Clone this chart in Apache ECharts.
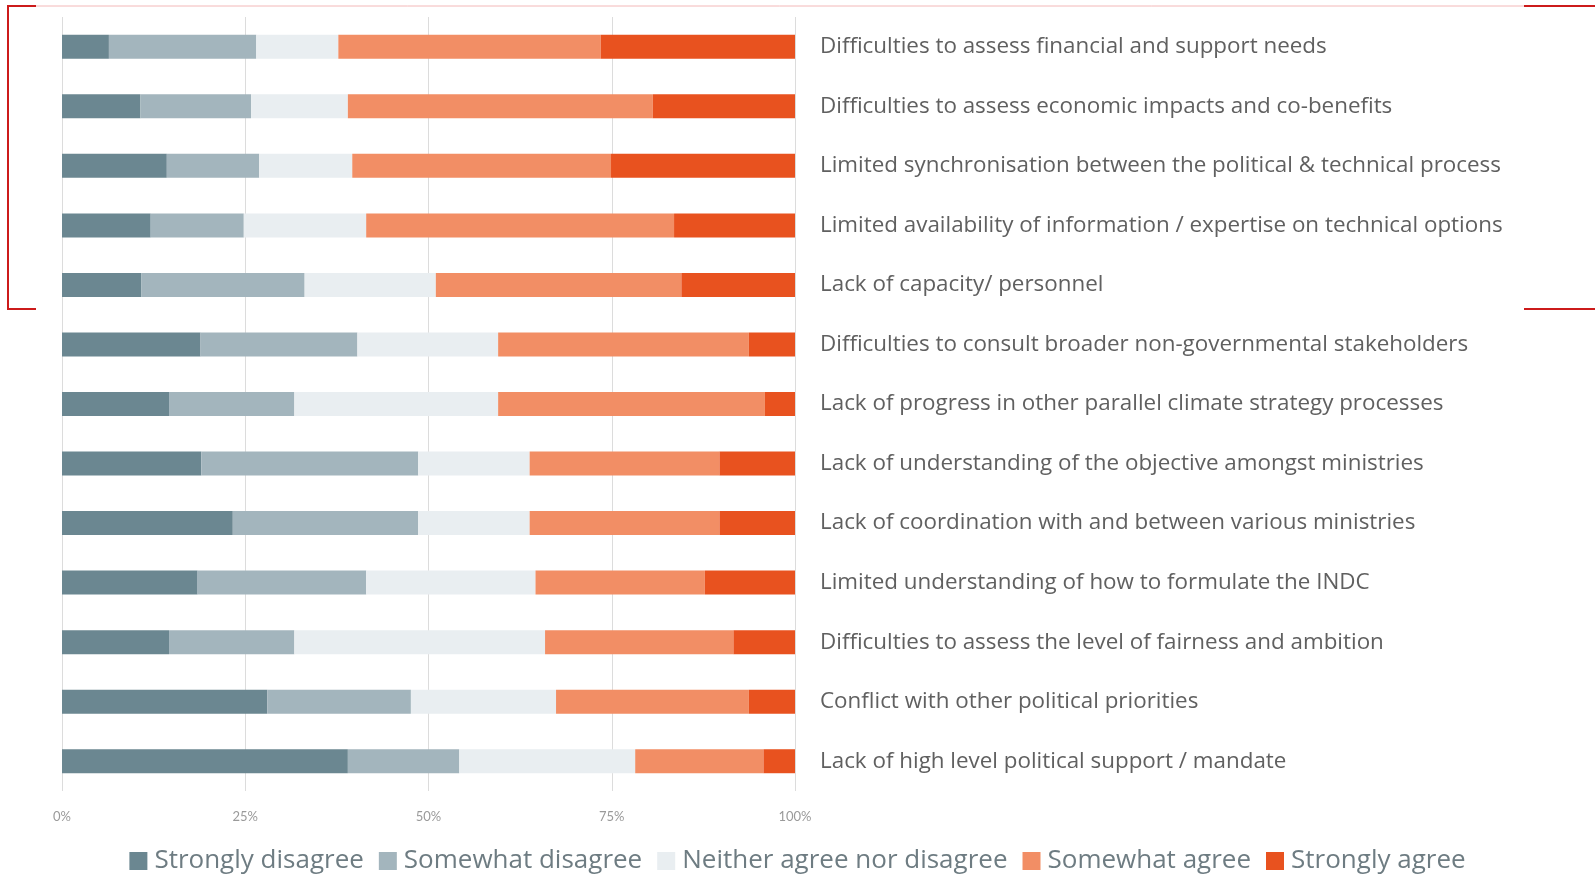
<!DOCTYPE html>
<html>
<head>
<meta charset="utf-8">
<script src="https://cdn.jsdelivr.net/npm/echarts@6/dist/echarts.min.js"></script>
<style>
    html, body { margin: 0; padding: 0; background: #ffffff; }
    #chart { width: 1595px; height: 874px; }
</style>
</head>
<body>
<div id="chart"></div>
<script>
    'use strict';

    var categories = [
        'Difficulties to assess financial and support needs',
        'Difficulties to assess economic impacts and co-benefits',
        'Limited synchronisation between the political & technical process',
        'Limited availability of information / expertise on technical options',
        'Lack of capacity/ personnel',
        'Difficulties to consult broader non-governmental stakeholders',
        'Lack of progress in other parallel climate strategy processes',
        'Lack of understanding of the objective amongst ministries',
        'Lack of coordination with and between various ministries',
        'Limited understanding of how to formulate the INDC',
        'Difficulties to assess the level of fairness and ambition',
        'Conflict with other political priorities',
        'Lack of high level political support / mandate'
    ];

    var seriesNames = [
        'Strongly disagree',
        'Somewhat disagree',
        'Neither agree nor disagree',
        'Somewhat agree',
        'Strongly agree'
    ];

    // percentages, one value per category (top to bottom)
    var stronglyDisagree = [6.4, 10.7, 14.3, 12.1, 10.8, 18.9, 14.6, 19.0, 23.3, 18.5, 14.6, 28.0, 39.0];
    var somewhatDisagree = [20.1, 15.1, 12.6, 12.7, 22.3, 21.4, 17.1, 29.6, 25.3, 23.0, 17.1, 19.6, 15.2];
    var neither = [11.2, 13.2, 12.7, 16.7, 17.9, 19.2, 27.8, 15.2, 15.2, 23.1, 34.2, 19.8, 24.0];
    var somewhatAgree = [35.8, 41.6, 35.3, 42.0, 33.5, 34.2, 36.4, 25.9, 25.9, 23.1, 25.7, 26.3, 17.5];
    var stronglyAgree = [26.5, 19.4, 25.1, 16.5, 15.5, 6.3, 4.1, 10.3, 10.3, 12.3, 8.4, 6.3, 4.3];

    var xTicks = [0, 25, 50, 75, 100];

    var colors = ['#6b8791', '#a3b5bd', '#e9eef1', '#f28e65', '#e8521f'];

    function buildSeries() {
        var values = [stronglyDisagree, somewhatDisagree, neither, somewhatAgree, stronglyAgree];
        var list = [];
        for (var i = 0; i < values.length; i++) {
            list.push({
                name: seriesNames[i],
                type: 'bar',
                stack: 'total',
                barWidth: 24,
                data: values[i],
                itemStyle: {color: colors[i]}
            });
        }
        return list;
    }

    function buildBracket() {
        var red = '#cc1b1b';
        return [
            {type: 'line', shape: {x1: 35, y1: 6, x2: 1524, y2: 6},
                style: {stroke: '#f3b8b8', lineWidth: 1}},
            {type: 'polyline', shape: {points: [[36, 6], [8, 6], [8, 309], [36, 309]]},
                style: {stroke: red, lineWidth: 2, fill: null}},
            {type: 'line', shape: {x1: 1524, y1: 6, x2: 1595, y2: 6},
                style: {stroke: red, lineWidth: 2}},
            {type: 'line', shape: {x1: 1524, y1: 309, x2: 1595, y2: 309},
                style: {stroke: red, lineWidth: 2}}
        ];
    }

    var option = {
        animation: false,
        color: colors,
        grid: {left: 62, right: 800, top: 17, bottom: 83},
        legend: {
            data: seriesNames,
            bottom: -5,
            left: 'center',
            itemWidth: 18,
            itemHeight: 18,
            itemGap: 15,
            icon: 'rect',
            textStyle: {fontFamily: 'Open Sans', fontSize: 26, color: '#6e7c82', padding: [0, 0, 0, 2]}
        },
        xAxis: {
            type: 'value',
            min: xTicks[0],
            max: xTicks[xTicks.length - 1],
            interval: 25,
            axisLine: {show: false},
            axisTick: {show: false},
            axisLabel: {
                formatter: '{value}%',
                margin: 19,
                fontFamily: 'Lato',
                fontSize: 13,
                color: '#9a9a9a'
            },
            splitLine: {lineStyle: {color: '#dcdcdc', width: 1}}
        },
        yAxis: {
            type: 'category',
            data: categories,
            inverse: true,
            position: 'right',
            axisLine: {show: false},
            axisTick: {show: false},
            axisLabel: {
                margin: 25,
                fontFamily: 'Open Sans',
                fontSize: 22.4,
                color: '#606060'
            }
        },
        graphic: buildBracket(),
        series: buildSeries()
    };

    var chart = echarts.init(document.getElementById('chart'));
    chart.setOption(option);
</script>
</body>
</html>
